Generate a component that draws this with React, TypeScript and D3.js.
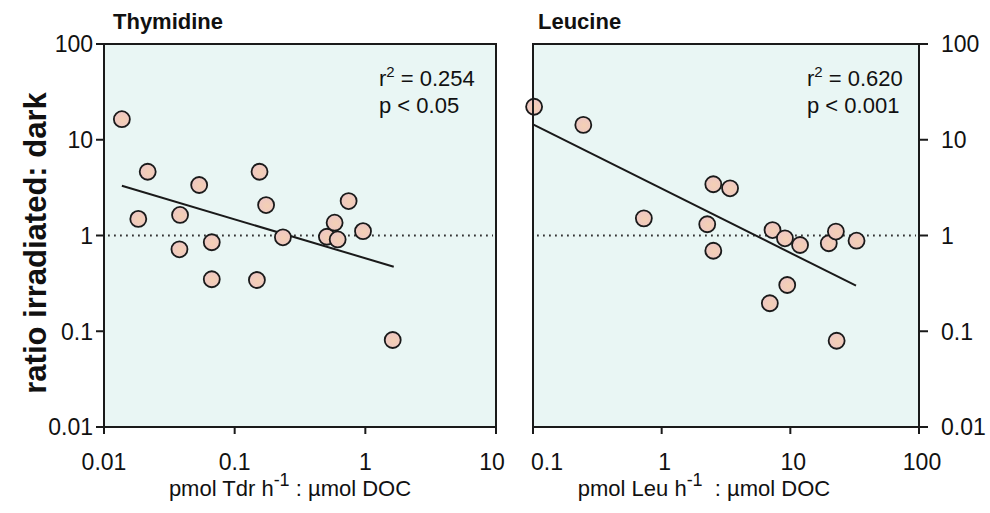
import React from "react";
import * as d3 from "d3";

const thyX = [0.0137, 0.0216, 0.0183, 0.0382, 0.0378, 0.0535, 0.0668, 0.0668, 0.155, 0.174, 0.148, 0.234, 0.508, 0.582, 0.614, 0.745, 0.96, 1.62];
const thyY = [16.4, 4.63, 1.49, 1.64, 0.718, 3.37, 0.85, 0.349, 4.63, 2.08, 0.343, 0.957, 0.97, 1.36, 0.91, 2.29, 1.11, 0.081];
const leuX = [0.102, 0.246, 0.727, 2.52, 3.4, 2.26, 2.52, 7.27, 9.08, 11.9, 19.9, 22.6, 32.7, 9.46, 6.93, 22.9];
const leuY = [22.1, 14.3, 1.51, 3.43, 3.11, 1.31, 0.693, 1.14, 0.935, 0.796, 0.83, 1.1, 0.883, 0.304, 0.196, 0.0796];
const thyFitX = [0.0137, 1.65];
const thyFitY = [3.31, 0.472];
const leuFitX = [0.1, 32.4];
const leuFitY = [14.5, 0.299];
const yTicks = [0.01, 0.1, 1, 10, 100];
const yTickLabels = ["0.01", "0.1", "1", "10", "100"];
const thyXTicks = [0.01, 0.1, 1, 10];
const thyXTickLabels = ["0.01", "0.1", "1", "10"];
const leuXTicks = [0.1, 1, 10, 100];
const leuXTickLabels = ["0.1", "1", "10", "100"];

const FONT = "'Liberation Sans', Arial, Helvetica, sans-serif";
const TOP = 44;
const BOTTOM = 427;

const y = d3.scaleLog().domain([0.01, 100]).range([BOTTOM, TOP]);
const xL = d3.scaleLog().domain([0.01, 10]).range([104, 496]);
const xR = d3.scaleLog().domain([0.1, 100]).range([533, 919]);

function Panel({ x, xs, ys, fx, fy, r2, p, textX }: any) {
  const [x0, x1] = x.range();
  const line = d3.line<number>().x((_, i) => x(fx[i])).y((v) => y(v));
  return (
    <g>
      <rect x={x0} y={TOP} width={x1 - x0} height={BOTTOM - TOP} fill="#e9f6f4" />
      <line x1={x0 + 4} x2={x1 - 3} y1={y(1)} y2={y(1)} stroke="#333" strokeWidth={2} strokeDasharray="1.8 4.2" />
      <path d={line(fy) || ""} fill="none" stroke="#1a1a1a" strokeWidth={2} />
      {xs.map((v: number, i: number) => (
        <circle key={i} cx={x(v)} cy={y(ys[i])} r={8} fill="url(#dotGrad)" stroke="#1a1a1a" strokeWidth={1.8} />
      ))}
      <rect x={x0} y={TOP} width={x1 - x0} height={BOTTOM - TOP} fill="none" stroke="#1a1a1a" strokeWidth={2} />
      <text x={textX} y={86} fontSize={22} fontFamily={FONT} fill="#111">
        r<tspan fontSize={15} dy={-9}>2</tspan>
        <tspan dy={9}> = {r2}</tspan>
      </text>
      <text x={textX} y={113} fontSize={22} fontFamily={FONT} fill="#111">
        p &lt; {p}
      </text>
    </g>
  );
}

export default function App() {
  return (
    <svg width={990} height={513} style={{ position: "absolute", left: 0, top: 0, background: "#fff" }}>
      <defs>
        <radialGradient id="dotGrad" cx="0.55" cy="0.55" r="0.6">
          <stop offset="0%" stopColor="#f4d0b3" />
          <stop offset="100%" stopColor="#edc6c6" />
        </radialGradient>
      </defs>
      <Panel x={xL} xs={thyX} ys={thyY} fx={thyFitX} fy={thyFitY} r2="0.254" p="0.05" textX={379} />
      <Panel x={xR} xs={leuX} ys={leuY} fx={leuFitX} fy={leuFitY} r2="0.620" p="0.001" textX={807} />

      {yTicks.map((t, i) => (
        <g key={"yl" + i}>
          <line x1={96} x2={104} y1={y(t)} y2={y(t)} stroke="#1a1a1a" strokeWidth={2} />
          <text x={93} y={y(t)} dy="0.36em" textAnchor="end" fontSize={23} fontFamily={FONT} fill="#111">
            {yTickLabels[i]}
          </text>
        </g>
      ))}
      {yTicks.map((t, i) => (
        <g key={"yr" + i}>
          <line x1={919} x2={928} y1={y(t)} y2={y(t)} stroke="#1a1a1a" strokeWidth={2} />
          <text x={941} y={y(t)} dy="0.36em" textAnchor="start" fontSize={23} fontFamily={FONT} fill="#111">
            {yTickLabels[i]}
          </text>
        </g>
      ))}
      {thyXTicks.map((t, i) => (
        <g key={"xl" + i}>
          <line x1={xL(t)} x2={xL(t)} y1={BOTTOM} y2={BOTTOM + 7} stroke="#1a1a1a" strokeWidth={2} />
          <text x={xL(t) - (i === 3 ? 4 : 0)} y={470} textAnchor="middle" fontSize={23} fontFamily={FONT} fill="#111">
            {thyXTickLabels[i]}
          </text>
        </g>
      ))}
      {leuXTicks.map((t, i) => (
        <g key={"xr" + i}>
          <line x1={xR(t)} x2={xR(t)} y1={BOTTOM} y2={BOTTOM + 7} stroke="#1a1a1a" strokeWidth={2} />
          <text x={xR(t) + (i === 0 ? 14 : 3)} y={470} textAnchor="middle" fontSize={23} fontFamily={FONT} fill="#111">
            {leuXTickLabels[i]}
          </text>
        </g>
      ))}

      <text x={113} y={29} fontSize={22} fontWeight="bold" fontFamily={FONT} fill="#111">Thymidine</text>
      <text x={538} y={29} fontSize={22} fontWeight="bold" fontFamily={FONT} fill="#111">Leucine</text>

      <text transform="translate(46,243) rotate(-90)" textAnchor="middle" fontSize={31} fontWeight="bold" fontFamily={FONT} fill="#111">
        ratio irradiated: dark
      </text>

      <text x={290} y={496} textAnchor="middle" fontSize={22} fontFamily={FONT} fill="#111">
        pmol Tdr h<tspan fontSize={18} dy={-10}>-1</tspan>
        <tspan dy={10}> : µmol DOC</tspan>
      </text>
      <text x={704} y={496} textAnchor="middle" fontSize={22} fontFamily={FONT} fill="#111">
        pmol Leu h<tspan fontSize={18} dy={-10}>-1</tspan>
        <tspan dy={10}>{"\u00a0\u00a0: µmol DOC"}</tspan>
      </text>
    </svg>
  );
}
